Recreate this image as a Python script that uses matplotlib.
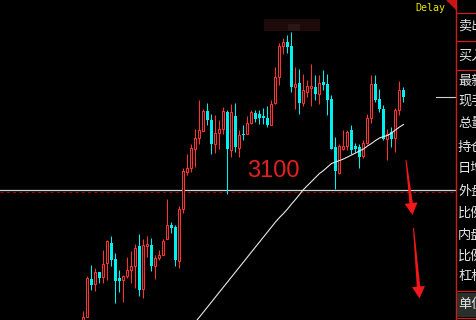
import matplotlib
matplotlib.use("Agg")
import matplotlib.pyplot as plt
from matplotlib.patches import Rectangle, Polygon
import numpy as np

plt.rcParams['font.family'] = ['Noto Sans CJK SC', 'DejaVu Sans']

# daily bars
opens = [2834, 2845, 2921, 2910, 2934, 2925, 2953, 2992, 2960, 2922,
         2919, 2927, 2939, 2947, 2986, 2901, 2987, 2988, 2947, 2963,
         2969, 3001, 3028, 3024, 2957, 3061, 3135, 3142, 3181, 3203,
         3217, 3257, 3239, 3191, 3213, 3221, 3254, 3179, 3246, 3183,
         3211, 3211, 3233, 3253, 3250, 3246, 3243, 3228, 3272, 3325,
         3387, 3395, 3386, 3305, 3313, 3273, 3295, 3303, 3305, 3291,
         3315, 3311, 3281, 3185, 3133, 3181, 3186, 3218, 3186, 3185,
         3166, 3193, 3242, 3310, 3281, 3261, 3200, 3215, 3203, 3258,
         3299]
highs = [2856, 2926, 2948, 2942, 2934, 2978, 2998, 3006, 2972, 2938,
         2929, 2965, 2976, 2990, 3010, 3000, 3006, 3002, 2969, 2978,
         3001, 3080, 3034, 3028, 3066, 3143, 3171, 3191, 3221, 3279,
         3261, 3273, 3250, 3249, 3239, 3265, 3258, 3271, 3273, 3218,
         3228, 3246, 3258, 3259, 3258, 3263, 3266, 3278, 3345, 3393,
         3403, 3408, 3414, 3345, 3341, 3331, 3318, 3350, 3328, 3328,
         3338, 3331, 3288, 3205, 3191, 3218, 3219, 3229, 3193, 3191,
         3198, 3251, 3328, 3328, 3301, 3268, 3221, 3225, 3263, 3316,
         3305]
lows = [2830, 2844, 2898, 2897, 2913, 2913, 2919, 2946, 2873, 2895,
        2874, 2923, 2913, 2902, 2887, 2882, 2965, 2936, 2920, 2959,
        2969, 3001, 3013, 2946, 2942, 3053, 3128, 3135, 3145, 3191,
        3216, 3228, 3171, 3173, 3181, 3211, 3091, 3165, 3175, 3165,
        3198, 3210, 3231, 3235, 3231, 3230, 3225, 3228, 3270, 3309,
        3371, 3373, 3295, 3261, 3251, 3266, 3285, 3266, 3278, 3271,
        3298, 3248, 3181, 3101, 3130, 3178, 3179, 3171, 3175, 3143,
        3163, 3191, 3233, 3275, 3255, 3198, 3159, 3185, 3175, 3248,
        3275]
closes = [2845, 2923, 2908, 2934, 2923, 2951, 2996, 2959, 2917, 2917,
          2926, 2939, 2946, 2983, 2899, 2989, 2991, 2947, 2963, 2969,
          2997, 3029, 3022, 2958, 3061, 3137, 3143, 3183, 3203, 3218,
          3257, 3238, 3191, 3213, 3221, 3256, 3181, 3254, 3185, 3209,
          3208, 3233, 3254, 3241, 3243, 3242, 3228, 3271, 3325, 3387,
          3395, 3385, 3305, 3311, 3273, 3298, 3306, 3306, 3291, 3313,
          3309, 3278, 3181, 3137, 3186, 3186, 3215, 3179, 3181, 3165,
          3193, 3243, 3310, 3279, 3260, 3201, 3211, 3200, 3258, 3298,
          3285]

# moving average, visible from bar 28 on
ma_first = 27
ma_vals = [2824, 2834, 2844, 2854, 2864, 2874, 2884, 2894, 2904, 2914,
           2924, 2934, 2944, 2954, 2964, 2974, 2984, 2994, 3004, 3014,
           3024, 3034, 3043, 3051, 3060, 3070, 3079, 3089, 3099, 3107,
           3115, 3123, 3131, 3137, 3144, 3151, 3154, 3157, 3160, 3164,
           3168, 3172, 3176, 3180, 3186, 3191, 3197, 3202, 3205, 3207,
           3212, 3218, 3224, 3229]

level = 3099
level_dash = 3095
level_text = "3100"
panel_labels = ["卖出", "买入", "最新", "现手", "总量", "持仓", "日增",
                "外盘", "比例", "内盘", "比例", "杠杆", "单位"]

UP = "#ff3232"
DOWN = "#00f0f0"

fig = plt.figure(figsize=(4.77, 3.2), dpi=100)
fig.patch.set_facecolor("black")
ax = fig.add_axes([0, 0, 1, 1])
ax.set_xlim(-83.5 / 4, (477 - 83.5) / 4)
ax.set_ylim(2838, 3478)
ax.axis("off")

# price level lines
ax.axhline(level, color="#d2d2d2", lw=0.9, zorder=1)
ax.axhline(level_dash, color="#a00000", lw=0.75, dashes=(3, 3), zorder=1)

for i, (o, h, l, c) in enumerate(zip(opens, highs, lows, closes)):
    if c >= o:
        ax.vlines(i, l, h, color=UP, lw=0.75, zorder=2)
        ax.add_patch(Rectangle((i - 0.25, o), 0.5, max(c - o, 1),
                               facecolor="black", edgecolor=UP, lw=0.75, zorder=3))
    else:
        ax.vlines(i, l, h, color=DOWN, lw=0.75, zorder=2)
        ax.add_patch(Rectangle((i - 0.375, c), 0.75, o - c,
                               facecolor=DOWN, edgecolor="none", zorder=3))

ax.plot(np.arange(ma_first, ma_first + len(ma_vals)), ma_vals,
        color="#e8e8e8", lw=0.8, zorder=4)

ax.text(40.9, 3124, level_text, color="#e62020", fontsize=17,
        family="Liberation Sans", va="baseline", ha="left", zorder=5)

# overlay in pixel coordinates for the decorations
ov = fig.add_axes([0, 0, 1, 1], facecolor="none")
ov.set_xlim(0, 477)
ov.set_ylim(320, 0)
ov.axis("off")


def tapered_arrow(tail, tip, w0, w1, head_w, head_len):
    tail = np.array(tail, float)
    tip = np.array(tip, float)
    d = (tip - tail) / np.linalg.norm(tip - tail)
    n = np.array([-d[1], d[0]])
    base = tip - d * head_len
    pts = [tail + n * w0 / 2, base + n * w1 / 2, base + n * head_w / 2, tip,
           base - n * head_w / 2, base - n * w1 / 2, tail - n * w0 / 2]
    return Polygon(pts, closed=True, facecolor="#f01818", edgecolor="none", zorder=6)


ov.add_patch(tapered_arrow((406, 160), (412.5, 215), 1, 3.5, 13, 12))
ov.add_patch(tapered_arrow((413.5, 228), (419.5, 298.5), 1, 3.5, 13, 12))

# blurred title box
ov.add_patch(Rectangle((264, 19), 56, 12, facecolor="#1e0a0a", edgecolor="none"))
ov.add_patch(Rectangle((288, 24), 12, 7, facecolor="#2a1616", edgecolor="none"))

ov.plot([436, 456], [96.5, 96.5], color="#d0d0d0", lw=0.8)
ov.text(415.5, 11, "Delay", color="#e6e600", fontsize=7.2,
        family="DejaVu Sans Mono", va="baseline", ha="left")
ov.add_patch(Polygon([(446.5, 0), (456.5, 0), (456.5, 9.5)],
                     facecolor="#c81414", edgecolor="none"))

# right quote panel
ov.add_patch(Rectangle((456, 0), 21, 320, facecolor="black", edgecolor="none", zorder=7))
ov.add_patch(Rectangle((457, 292.5), 20, 24, facecolor="#2a2f2a", edgecolor="none", zorder=7))
ov.plot([456.5, 456.5], [0, 320], color="#c81e1e", lw=1, zorder=8)
for yy in [12.5, 40.5, 69.5, 290.5, 317.5]:
    ov.plot([456, 477], [yy, yy], color="#c81e1e", lw=0.9, zorder=8)
row_y = [26.5, 56.5, 81, 101, 123.5, 147, 168.5, 191, 213, 236, 256.5, 276.5, 304.5]
for lab, yy in zip(panel_labels, row_y):
    ov.text(458, yy, lab, color="#e6e6e6", fontsize=9.5, va="center",
            ha="left", zorder=9)

fig.savefig("out.png", dpi=100, facecolor="black")
